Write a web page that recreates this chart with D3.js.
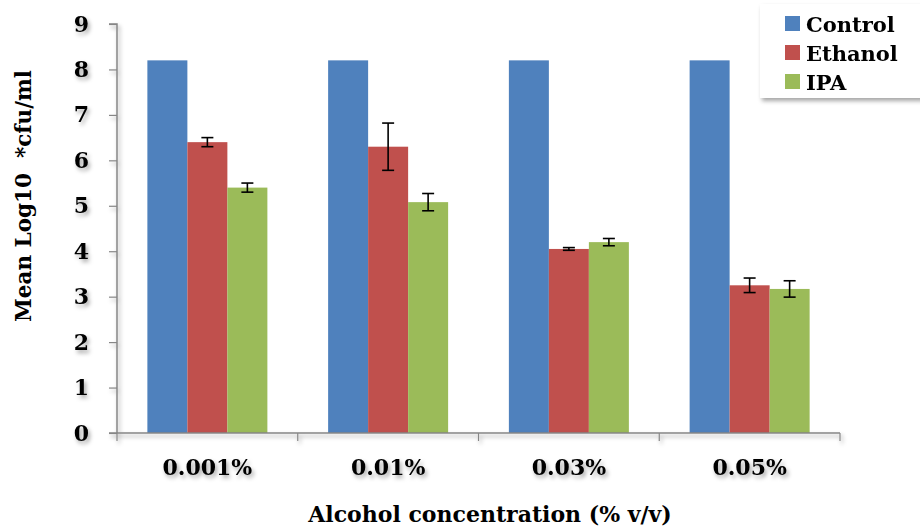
<!DOCTYPE html>
<html><head><meta charset="utf-8">
<script src="https://cdn.jsdelivr.net/npm/d3@7"></script>
<style>body{margin:0;background:#fff}svg{display:block}text{font-family:"DejaVu Serif",serif;font-weight:bold;fill:#000}</style>
</head><body>
<svg id="c" width="920" height="526"></svg>
<script>
const categories = ["0.001%", "0.01%", "0.03%", "0.05%"];
const seriesNames = ["Control", "Ethanol", "IPA"];
const control = [8.2, 8.2, 8.2, 8.2];
const ethanol = [6.4, 6.3, 4.05, 3.25];
const ipa = [5.4, 5.08, 4.2, 3.17];
const controlErr = [0, 0, 0, 0];
const ethanolErr = [0.1, 0.52, 0.03, 0.16];
const ipaErr = [0.1, 0.19, 0.08, 0.18];
const yTicks = [0,1,2,3,4,5,6,7,8,9];
const colors = ["#4F81BD", "#C0504D", "#9BBB59"];

const svg = d3.select("#c");
const defs = svg.append("defs");
const f = defs.append("filter").attr("id","sh").attr("x","-10%").attr("y","-10%").attr("width","130%").attr("height","150%");
f.append("feDropShadow").attr("dx",2).attr("dy",3).attr("stdDeviation",2).attr("flood-color","#000").attr("flood-opacity",0.35);

const x0 = 117, x1 = 840, yTop = 24, yBot = 433;
const x = d3.scaleBand().domain(categories).range([x0, x1]).paddingInner(0).paddingOuter(0);
const gap = (x.bandwidth() - 120) / 2;
const xs = d3.scaleBand().domain(seriesNames).range([gap, x.bandwidth() - gap]).padding(0);
const y = d3.scaleLinear().domain([0, 9]).range([yBot, yTop]);

const series = [control, ethanol, ipa];
const errs = [controlErr, ethanolErr, ipaErr];

const g = svg.append("g");
seriesNames.forEach((s, si) => {
  g.selectAll(".b"+si).data(categories).enter().append("rect")
    .attr("x", c => x(c) + xs(s))
    .attr("width", xs.bandwidth())
    .attr("y", (c,i) => y(series[si][i]))
    .attr("height", (c,i) => yBot - y(series[si][i]))
    .attr("fill", colors[si]);
});
seriesNames.forEach((s, si) => {
  categories.forEach((c, i) => {
    const e = errs[si][i];
    if (!e) return;
    const cx = x(c) + xs(s) + xs.bandwidth()/2;
    const v = series[si][i];
    const eg = g.append("g").attr("stroke","#000").attr("stroke-width",1.6);
    eg.append("line").attr("x1",cx).attr("x2",cx).attr("y1",y(v+e)).attr("y2",y(v-e));
    eg.append("line").attr("x1",cx-6).attr("x2",cx+6).attr("y1",y(v+e)).attr("y2",y(v+e));
    eg.append("line").attr("x1",cx-6).attr("x2",cx+6).attr("y1",y(v-e)).attr("y2",y(v-e));
  });
});

const ax = svg.append("g").attr("filter","url(#sh)");
const yAxis = ax.append("g").attr("transform",`translate(${x0},0)`)
  .call(d3.axisLeft(y).tickValues(yTicks).tickSize(8).tickPadding(20).tickFormat(d3.format("d")));
const xAxis = ax.append("g").attr("transform",`translate(0,${yBot})`)
  .call(d3.axisBottom(x).tickSize(0).tickPadding(26));
[yAxis, xAxis].forEach(a => {
  a.select(".domain").attr("stroke","#868686").attr("stroke-width",1.5);
  a.selectAll(".tick line").attr("stroke","#868686").attr("stroke-width",1.2);
  a.selectAll("text").attr("font-size",22).attr("font-family",'"DejaVu Serif",serif').attr("font-weight","bold").attr("fill","#000");
});
yAxis.select(".domain").attr("d",`M-8,${yTop}H0V${yBot}`);
xAxis.select(".domain").attr("d",`M${x0-8},0H${x1}`);
const bounds = categories.map(c => x(c)).concat([x1]);
xAxis.selectAll(".bt").data(bounds).enter().append("line")
  .attr("x1",d=>d).attr("x2",d=>d).attr("y1",0).attr("y2",8)
  .attr("stroke","#868686").attr("stroke-width",1.2);
xAxis.selectAll(".tick text").attr("dy","0.71em");

svg.append("text").attr("transform","translate(31,196) rotate(-90)").attr("text-anchor","middle")
  .attr("font-size",21.5).style("white-space","pre").text("Mean Log10  *cfu/ml");
svg.append("text").attr("x",490).attr("y",522).attr("text-anchor","middle")
  .attr("font-size",22).text("Alcohol concentration (% v/v)");

const lg = svg.append("g");
lg.append("rect").attr("x",760).attr("y",4).attr("width",168).attr("height",94).attr("fill","#fff").attr("filter","url(#sh)");
seriesNames.forEach((s, i) => {
  const yy = 24 + i*29;
  lg.append("rect").attr("x",785).attr("y",yy-8).attr("width",15).attr("height",15).attr("fill",colors[i]);
  lg.append("text").attr("x",806).attr("y",yy+8).attr("font-size",21).text(s);
});
</script>
</body></html>
